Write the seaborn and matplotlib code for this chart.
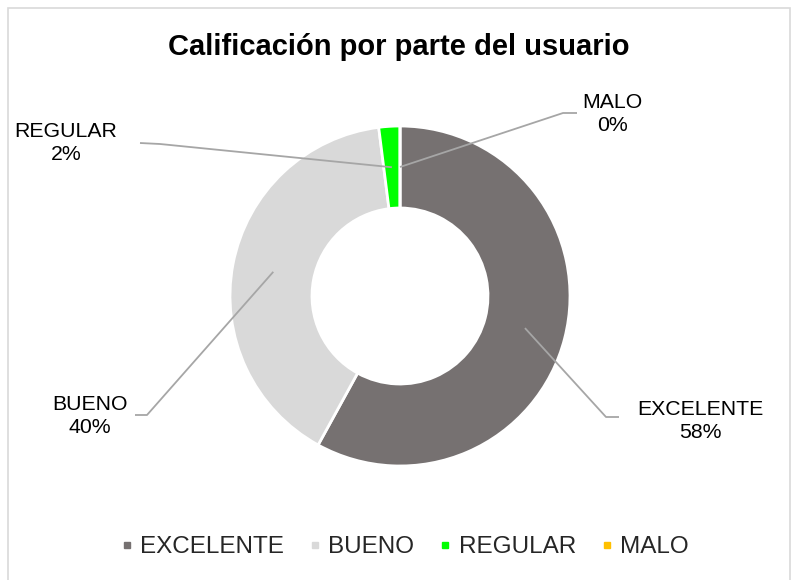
import numpy as np
import matplotlib
matplotlib.use("Agg")
import matplotlib.pyplot as plt
from matplotlib.lines import Line2D
from matplotlib.patches import Rectangle
import seaborn as sns

categorias = ["EXCELENTE", "BUENO", "REGULAR", "MALO"]
porcentajes = [58, 40, 2, 0]
colores = ["#767171", "#D9D9D9", "#00FF00", "#FFC000"]
titulo = "Calificación por parte del usuario"

sns.set_theme(style="white")
plt.rcParams["font.family"] = ["Liberation Sans", "DejaVu Sans"]

W, H = 798, 580
fig = plt.figure(figsize=(W / 100, H / 100), dpi=100)
ax = fig.add_axes([0, 0, 1, 1])

# donut in pixel-like coordinates (y up)
cx, cy = 400, H - 296
R, r = 170, 88
wedges, _ = ax.pie(porcentajes, colors=colores, startangle=90, counterclock=False,
                   center=(cx, cy), radius=R, frame=True,
                   wedgeprops=dict(width=R - r, edgecolor="white", linewidth=2))
ax.set_xlim(0, W)
ax.set_ylim(0, H)
ax.axis("off")

# label positions: elbow point, end of horizontal stub, text centre
etiquetas = {
    "EXCELENTE": ((606, 417), (619, 417), (700, 421)),
    "BUENO": ((147, 415), (135, 415), (90, 416)),
    "REGULAR": ((160, 144), (140, 143), (66, 143)),
    "MALO": ((563, 113), (577, 113), (612, 114)),
}
rm = (R + r) / 2
for w, cat, p in zip(wedges, categorias, porcentajes):
    ang = np.deg2rad((w.theta1 + w.theta2) / 2)
    x0, y0 = cx + rm * np.cos(ang), cy + rm * np.sin(ang)
    (ex, ey), (sx, sy), (tx, ty) = etiquetas[cat]
    ax.plot([x0, ex, sx], [y0, H - ey, H - sy], color="#A6A6A6", lw=1.3,
            solid_capstyle="butt", zorder=5)
    ax.text(tx, H - ty, f"{cat}\n{p}%", ha="center", va="center",
            fontsize=15.3, color="#000000", linespacing=1.25)

fig.text(0.5, 1 - 47 / H, titulo, ha="center", va="center",
         fontsize=21, fontweight="bold", color="#000000")

handles = [Line2D([0], [0], marker="s", linestyle="none", markersize=4.5,
                  markerfacecolor=c, markeredgecolor=c) for c in colores]
fig.legend(handles, categorias, loc="center", bbox_to_anchor=(406 / W, 1 - 547 / H),
           ncol=4, frameon=False, fontsize=17.5, handlelength=0.3,
           handletextpad=0.4, columnspacing=1.12)

fig.add_artist(Rectangle((8 / W, -0.02), (790 - 8) / W, 1.02 - 8 / H,
                         transform=fig.transFigure, fill=False,
                         edgecolor="#D9D9D9", linewidth=1.2))

fig.savefig("out.png", dpi=100)
